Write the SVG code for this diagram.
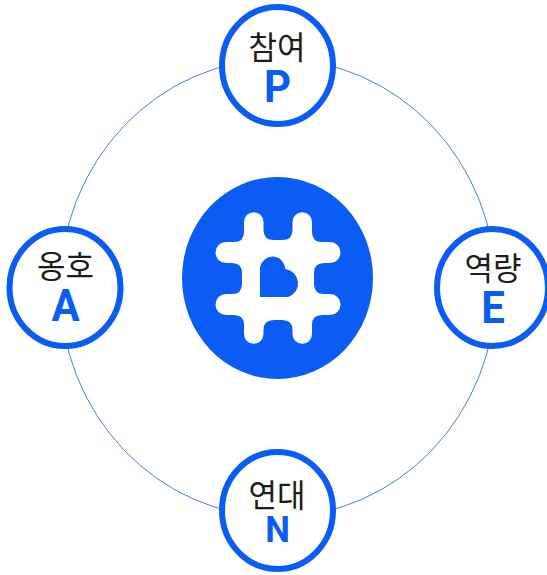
<svg xmlns="http://www.w3.org/2000/svg" width="547" height="575" viewBox="0 0 547 575">
<style>
.ring{fill:none;stroke:#4a7bee;stroke-width:1}
.nd{fill:#fff;stroke:#0a5cf5;stroke-width:6}
.ko{font-family:"Noto Sans CJK KR","Noto Sans",sans-serif;font-size:31px;fill:#1c1c1c;text-anchor:middle}
.en{font-family:Roboto,"Noto Sans",sans-serif;font-weight:700;font-size:42px;fill:#0a5cf5;text-anchor:middle}
.sm{font-size:35px}
</style>
<rect width="547" height="575" fill="#fff"/>
<g id="connectors"><ellipse class="ring" cx="278" cy="288" rx="218" ry="229"/></g>
<g id="center">
<ellipse cx="277.500" cy="278" rx="95.500" ry="101" fill="#0a5cf5"/>
<path fill="#fff" d="M244 222A9.750 9.750 0 0 1 263.500 222V230Q263.500 240 274 240H282Q292.500 240 292.500 230V222A9.750 9.750 0 0 1 312 222V232Q312 242 322 242H330A10.500 10.500 0 0 1 330 263H324Q314 263 314 273V284Q314 294 324 294H330A10.500 10.500 0 0 1 330 315H322Q312 315 312 325V334A9.750 9.750 0 0 1 292.500 334V330Q292.500 320 282 320H274Q263.500 320 263.500 330V334A9.750 9.750 0 0 1 244 334V325Q244 315 234 315H226A10.500 10.500 0 0 1 226 294H232Q242 294 242 284V273Q242 263 232 263H226A10.500 10.500 0 0 1 226 242H234Q244 242 244 232Z"/>
<path fill="#0a5cf5" d="M260 297V267A13 14 0 0 1 285.500 269A15 14.500 0 0 1 288 297Z"/>
</g>
<g id="node-p"><ellipse class="nd" cx="277.500" cy="65.500" rx="55.500" ry="58.500"/><text class="ko" transform="translate(277 59) scale(1 1.03)">참여</text><text class="en" transform="translate(277.500 102) scale(1 1.05)">P</text></g>
<g id="node-a"><ellipse class="nd" cx="65" cy="287.500" rx="55.500" ry="58.500"/><text class="ko" transform="translate(65.500 278) scale(1 1.03)">옹호</text><text class="en" transform="translate(65.500 321) scale(1 1.05)">A</text></g>
<g id="node-e"><ellipse class="nd" cx="492.500" cy="287.500" rx="55.500" ry="58.500"/><text class="ko" transform="translate(493 280) scale(1 1.03)">역량</text><text class="en" transform="translate(493 323) scale(1 1.05)">E</text></g>
<g id="node-n"><ellipse class="nd" cx="277.500" cy="510.500" rx="55.500" ry="58.500"/><text class="ko" transform="translate(277 507) scale(1 1.03)">연대</text><text class="en sm" transform="translate(277.500 542) scale(1 1.04)">N</text></g>
</svg>
